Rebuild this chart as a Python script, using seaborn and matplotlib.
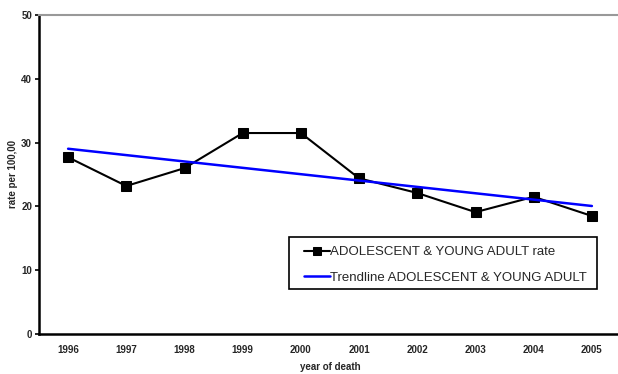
import numpy as np
import pandas as pd
import matplotlib
matplotlib.use("Agg")
import matplotlib.pyplot as plt
from matplotlib.patches import Rectangle
import seaborn as sns

years = ["1996", "1997", "1998", "1999", "2000", "2001", "2002", "2003", "2004", "2005"]
rate = [27.7, 23.2, 26.0, 31.5, 31.5, 24.4, 22.1, 19.1, 21.5, 18.5]
y_ticks = [0, 10, 20, 30, 40, 50]

sns.set_style("white")
plt.rcParams["font.family"] = ["Liberation Sans", "DejaVu Sans"]

pos = np.arange(len(years))
slope, intercept = np.polyfit(pos, rate, 1)
trend = intercept + slope * pos

df = pd.DataFrame({"pos": pos, "rate": rate, "trend": trend})

W, H = 618, 374
fig = plt.figure(figsize=(W / 100, H / 100), dpi=100)
ax = fig.add_axes([39 / W, (H - 334) / H, (621 - 39) / W, (334 - 15) / H])

sns.lineplot(data=df, x="pos", y="rate", ax=ax, color="black", linewidth=1.5,
             marker="s", markersize=6.5, markeredgecolor="black",
             label="ADOLESCENT & YOUNG ADULT rate")
sns.lineplot(data=df, x="pos", y="trend", ax=ax, color="#0000ff", linewidth=1.8,
             label="Trendline ADOLESCENT & YOUNG ADULT")

ax.set_xlim(-0.5, len(years) - 0.5)
ax.set_ylim(0, 50)
ax.set_yticks(y_ticks)
ax.set_yticklabels([str(v) for v in y_ticks], fontsize=7, fontweight="bold")
ax.set_xticks(pos)
ax.set_xticklabels(years, fontsize=7, fontweight="bold")
ax.set_xticks(np.arange(-0.5, len(years) + 0.5, 1), minor=True)
ax.tick_params(axis="x", which="major", length=0, pad=8)
ax.tick_params(axis="x", which="minor", length=3, width=1.2, color="black", direction="out")
ax.tick_params(axis="y", length=3, width=1.2, color="black", direction="out", pad=2, left=True)

for side in ("left", "bottom"):
    ax.spines[side].set_color("black")
    ax.spines[side].set_linewidth(1.8)
ax.spines["top"].set_color("#999999")
ax.spines["top"].set_linewidth(1.5)
ax.spines["right"].set_visible(False)
ax.grid(False)

ax.set_xlabel("year of death", fontsize=7, fontweight="bold", labelpad=5)
ax.set_ylabel("rate per 100,00", fontsize=7, fontweight="bold", labelpad=2.5)

# Legend box drawn in figure pixels, legend entries placed inside it
box_x0, box_x1, box_top, box_bot = 289, 597, 237, 289
fig.patches.append(Rectangle((box_x0 / W, (H - box_bot) / H),
                             (box_x1 - box_x0) / W, (box_bot - box_top) / H,
                             transform=fig.transFigure, fill=False,
                             edgecolor="black", linewidth=1.2, zorder=5))
leg = ax.legend(loc="upper left", bbox_to_anchor=(300 / W, (H - box_top - 5) / H),
                bbox_transform=fig.transFigure, fontsize=9.5, frameon=False,
                handlelength=2.0, handletextpad=0.0, borderpad=0.3,
                borderaxespad=0, labelspacing=1.03)
for h in leg.legend_handles:
    h.set_markersize(5.5)

fig.savefig("out.png", dpi=100)
